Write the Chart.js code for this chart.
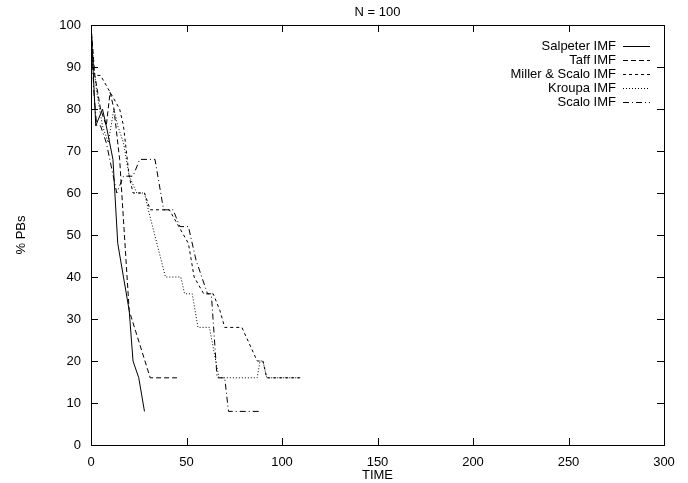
<!DOCTYPE html>
<html lang="en">
<head>
    <meta charset="UTF-8" />
    <title>N = 100</title>
    <script src="https://cdn.jsdelivr.net/npm/chart.js"></script>
    <style>
        html, body { margin: 0; padding: 0; background: #fff; }
        canvas { display: block; }
    </style>
</head>
<body>

<canvas id="pbChart" width="688" height="483"></canvas>

<script>
    // Values (time, % PBs)
    const timeSalpeter = [0, 2.5, 6, 8, 11.5, 14, 20, 22, 25, 28];
    const pbSalpeter   = [100, 76, 80, 76, 68, 48, 32, 20, 16, 8];

    const timeTaff = [0, 2, 5, 8, 10, 12, 15, 20, 31, 45];
    const pbTaff   = [100, 88, 80, 76, 84, 80, 68, 32, 16, 16];

    const timeMiller = [0, 1.5, 5, 10, 15, 17, 20, 22, 28, 31, 41, 46, 51, 54, 59, 64, 67.5, 70, 79, 87, 90, 92, 110];
    const pbMiller   = [100, 88, 88, 84, 80, 76, 64, 60, 60, 56, 56, 52, 48, 40, 36, 36, 32, 28, 28, 20, 20, 16, 16];

    const timeKroupa = [0, 1, 3, 6, 9, 12, 14, 17, 20, 24, 28, 30, 39, 47, 49, 53, 56, 62, 67, 87, 88.5, 90, 92, 110];
    const pbKroupa   = [100, 92, 84, 76, 72, 80, 76, 72, 64, 60, 60, 56, 40, 40, 36, 36, 28, 28, 16, 16, 20, 20, 16, 16];

    const timeScalo = [0, 1.5, 3, 5, 8, 13.5, 17, 22, 25.5, 33.5, 38, 43, 46.5, 51, 55, 58, 61, 63, 66, 70, 72, 88];
    const pbScalo   = [100, 84, 76, 76, 72, 60, 64, 64, 68, 68, 56, 56, 52, 52, 44, 40, 36, 36, 16, 16, 8, 8];

    const seriesNames = ['Salpeter IMF', 'Taff IMF', 'Miller & Scalo IMF', 'Kroupa IMF', 'Scalo IMF'];
    const seriesDash  = [[], [5, 3], [3, 3], [1, 2], [6, 3, 1, 3]];

    const xTicks = [0, 50, 100, 150, 200, 250, 300];
    const yTicks = [0, 10, 20, 30, 40, 50, 60, 70, 80, 90, 100];

    const FONT = "'Liberation Sans', Arial, Helvetica, sans-serif";

    function toPoints(xs, ys) {
        return xs.map((x, i) => ({ x: x, y: ys[i] }));
    }

    const seriesData = [
        toPoints(timeSalpeter, pbSalpeter),
        toPoints(timeTaff, pbTaff),
        toPoints(timeMiller, pbMiller),
        toPoints(timeKroupa, pbKroupa),
        toPoints(timeScalo, pbScalo)
    ];

    // frame, inward ticks, title and gnuplot style key
    const gnuplotLook = {
        id: 'gnuplotLook',
        afterDraw(chart) {
            const ctx = chart.ctx;
            const a = chart.chartArea;
            const sx = chart.scales.x;
            const sy = chart.scales.y;
            const tick = 7;

            ctx.save();
            ctx.strokeStyle = '#000';
            ctx.lineWidth = 1;
            ctx.setLineDash([]);
            ctx.strokeRect(Math.round(a.left) + 0.5, Math.round(a.top) + 0.5,
                Math.round(a.right - a.left), Math.round(a.bottom - a.top));

            ctx.beginPath();
            xTicks.forEach(v => {
                const px = Math.round(sx.getPixelForValue(v)) + 0.5;
                ctx.moveTo(px, a.bottom);
                ctx.lineTo(px, a.bottom - tick);
                ctx.moveTo(px, a.top);
                ctx.lineTo(px, a.top + tick);
            });
            yTicks.forEach(v => {
                const py = Math.round(sy.getPixelForValue(v)) + 0.5;
                ctx.moveTo(a.left, py);
                ctx.lineTo(a.left + tick, py);
                ctx.moveTo(a.right, py);
                ctx.lineTo(a.right - tick, py);
            });
            ctx.stroke();

            ctx.fillStyle = '#000';
            ctx.font = '13px ' + FONT;
            ctx.textAlign = 'center';
            ctx.textBaseline = 'middle';
            ctx.fillText('N = 100', (a.left + a.right) / 2, 12);

            // key
            ctx.textAlign = 'right';
            chart.data.datasets.forEach((ds, i) => {
                const y = 46 + i * 14;
                ctx.fillText(ds.label, 616, y);
                ctx.beginPath();
                ctx.setLineDash(ds.borderDash || []);
                ctx.moveTo(623, Math.round(y) + 0.5);
                ctx.lineTo(650, Math.round(y) + 0.5);
                ctx.stroke();
            });
            ctx.restore();
        }
    };

    new Chart(document.getElementById('pbChart'), {
        type: 'line',
        data: {
            datasets: seriesNames.map((name, i) => ({
                label: name,
                data: seriesData[i],
                borderColor: '#000',
                borderWidth: 1,
                borderDash: seriesDash[i],
                pointRadius: 0,
                tension: 0,
                fill: false
            }))
        },
        options: {
            responsive: false,
            animation: false,
            devicePixelRatio: 1,
            layout: { padding: { top: 25, right: 24, left: 0, bottom: 0 } },
            plugins: {
                legend: { display: false },
                title: { display: false },
                tooltip: { enabled: false }
            },
            scales: {
                x: {
                    type: 'linear',
                    min: 0,
                    max: 300,
                    afterFit: s => { s.height = 38; },
                    afterBuildTicks: s => { s.ticks = xTicks.map(v => ({ value: v })); },
                    ticks: { color: '#000', font: { family: FONT, size: 13 }, padding: 2, maxRotation: 0 },
                    grid: { display: false },
                    border: { display: false },
                    title: { display: true, text: 'TIME', color: '#000', font: { family: FONT, size: 13 }, padding: { top: 0, bottom: 0 } }
                },
                y: {
                    min: 0,
                    max: 100,
                    afterFit: s => { s.width = 91; },
                    afterBuildTicks: s => { s.ticks = yTicks.map(v => ({ value: v })); },
                    ticks: { color: '#000', font: { family: FONT, size: 13 }, padding: 2 },
                    grid: { display: false },
                    border: { display: false },
                    title: { display: true, text: '% PBs', color: '#000', font: { family: FONT, size: 13 }, padding: { top: 14, bottom: 0 } }
                }
            }
        },
        plugins: [gnuplotLook]
    });
</script>

</body>
</html>
